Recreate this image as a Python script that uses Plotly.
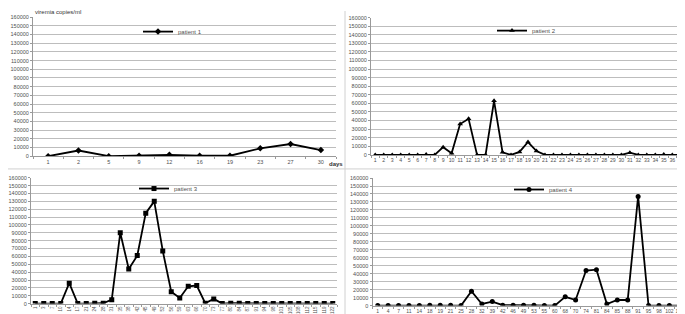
import plotly.graph_objects as go

# ---------------- data ----------------
p1_days = ["1", "2", "5", "9", "12", "16", "19", "23", "27", "30"]
p1_vals = [0, 6500, 0, 500, 1500, 500, 500, 9000, 14000, 7000]

p2_days = [str(d) for d in range(1, 38)]
p2_vals = [0, 0, 0, 0, 0, 0, 500, 0, 9000, 2000, 36000, 42000, 0, 0, 63000, 3000,
           0, 3500, 15000, 4500, 0, 0, 0, 0, 0, 0, 0, 0, 0, 0, 2500, 0, 0, 0, 500, 0, 0]

p3_days = ["1", "3", "7", "10", "14", "17", "21", "24", "28", "31", "35", "38", "42", "45",
           "49", "52", "56", "59", "63", "66", "70", "73", "77", "80", "84", "87", "91", "94",
           "98", "101", "105", "108", "112", "115", "119", "122"]
p3_vals = [0, 0, 0, 0, 26000, 0, 0, 500, 500, 5000, 90000, 44000, 61000, 115000, 130000,
           67000, 15000, 7000, 22000, 23000, 500, 6000, 0, 500, 500, 0, 0, 0, 0, 0, 0, 0,
           0, 0, 0, 0]

p4_days = ["1", "4", "7", "11", "14", "18", "19", "21", "25", "28", "32", "39", "42", "46",
           "49", "53", "55", "60", "68", "70", "74", "81", "84", "85", "88", "91", "95", "98",
           "102", "103"]
p4_vals = [0, 0, 0, 0, 0, 500, 500, 500, 0, 18000, 2000, 5000, 500, 500, 500, 500, 0, 0,
           11000, 7000, 44000, 45000, 2000, 7000, 7000, 137000, 0, 0, 0, 0]

y_ticks = list(range(0, 160001, 10000))
names = ["patient 1", "patient 2", "patient 3", "patient 4"]
symbols = ["diamond", "triangle-up", "square", "circle"]

W, H = 685, 314
FONT = "Liberation Sans, Arial, sans-serif"
TXT = "#505050"
GRID = "#bdbdbd"

# panel pixel boxes: (x0, x1, y_bottom_from_top, y_top_from_top)
boxes = [
    (25, 328, 148, 6.3),
    (363, 677, 146.7, 6.7),
    (23, 329, 298.3, 170),
    (364.5, 677, 300.3, 170.3),
]
legend_pos = [(130, 21), (484, 20), (126, 181), (501, 182)]
xtick_sizes = [5.5, 5.2, 4.5, 5.0]

series = [(p1_days, p1_vals), (p2_days, p2_vals), (p3_days, p3_vals), (p4_days, p4_vals)]

fig = go.Figure()
layout = dict(
    width=W, height=H, margin=dict(l=0, r=0, t=0, b=0),
    paper_bgcolor="white", plot_bgcolor="white",
    font=dict(family=FONT, size=6, color=TXT),
    showlegend=True,
)

for i, ((days, vals), box) in enumerate(zip(series, boxes)):
    n = i + 1
    xa = "x" if n == 1 else f"x{n}"
    ya = "y" if n == 1 else f"y{n}"
    lg = "legend" if n == 1 else f"legend{n}"
    fig.add_trace(go.Scatter(
        x=days, y=vals, mode="lines+markers", name=names[i],
        xaxis=xa, yaxis=ya, legend=lg,
        line=dict(color="black", width=1.8),
        marker=dict(symbol=symbols[i], size=5, color="black"),
    ))
    x0, x1, yb, yt = box
    xkey = "xaxis" if n == 1 else f"xaxis{n}"
    ykey = "yaxis" if n == 1 else f"yaxis{n}"
    layout[xkey] = dict(
        domain=[x0 / W, x1 / W], anchor=ya, type="category",
        range=[-0.5, len(days) - 0.5],
        showgrid=False, showline=True, linecolor="#999999", linewidth=1,
        ticks="outside", ticklen=2, tickcolor="#999999", tickson="boundaries",
        tickfont=dict(size=xtick_sizes[i], color=TXT),
        tickangle=-90 if n == 3 else 0,
        ticklabeloverflow="allow",
        fixedrange=True,
    )
    layout[ykey] = dict(
        domain=[(H - yb) / H, (H - yt) / H], anchor=xa,
        range=[0, 160000], tickvals=y_ticks, ticktext=[str(v) for v in y_ticks],
        showgrid=True, gridcolor=GRID, gridwidth=1,
        showline=True, linecolor="#999999", linewidth=1,
        ticks="outside", ticklen=2, tickcolor="#999999",
        tickfont=dict(size=5.5, color=TXT), zeroline=False,
        fixedrange=True,
    )
    lx, ly = legend_pos[i]
    layout[lg] = dict(
        x=lx / W, y=1 - ly / H, xanchor="left", yanchor="middle",
        bgcolor="rgba(0,0,0,0)", borderwidth=0, itemwidth=30,
        font=dict(size=6, color=TXT, family=FONT),
        tracegroupgap=0,
    )

fig.update_layout(**layout)

fig.add_annotation(
    text="viremia copies/ml", xref="paper", yref="paper",
    x=25 / W, y=1 - 6.3 / H, xanchor="left", yanchor="bottom",
    showarrow=False, font=dict(size=6, color="#333333", family=FONT),
)
fig.add_annotation(
    text="<b>days</b>", xref="paper", yref="paper",
    x=337 / W, y=1 - 156 / H, xanchor="right", yanchor="middle",
    showarrow=False, font=dict(size=6, color="#333333", family=FONT),
)

# chart borders (separators between the four panels)
fig.add_shape(type="line", xref="paper", yref="paper",
              x0=0, x1=1, y0=1 - 161 / H, y1=1 - 161 / H,
              line=dict(color="#d0d0d0", width=1))
fig.add_shape(type="line", xref="paper", yref="paper",
              x0=337 / W, x1=337 / W, y0=0, y1=1,
              line=dict(color="#d0d0d0", width=1))

fig.write_html("out.html")
